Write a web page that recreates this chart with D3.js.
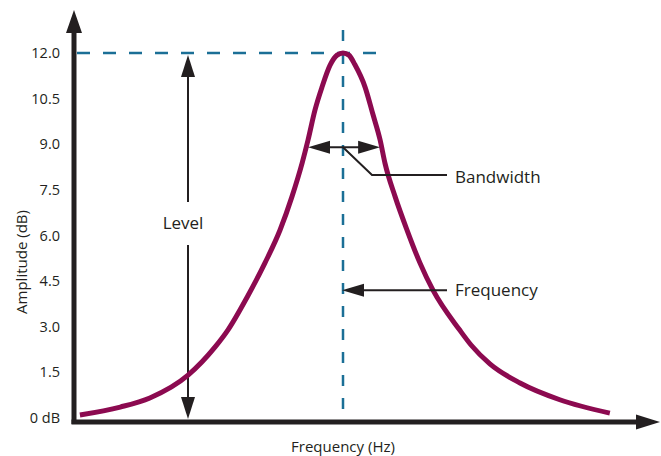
<!DOCTYPE html>
<html>
<head>
<meta charset="utf-8">
<script src="https://cdn.jsdelivr.net/npm/d3@7"></script>
<style>
  body { margin: 0; background: #fff; }
  text { font-family: "Open Sans", "Noto Sans", sans-serif; fill: #231f20; }
</style>
</head>
<body>
<div id="chart"></div>
<script>
// curve (frequency in arbitrary units, amplitude in dB)
var freq = [1.1, 8.6, 14.1, 21.2, 26.2, 28.6, 32.2, 35.5, 38.3, 40.5, 42.4, 43.5, 44.8, 46.1, 47.6, 48.9, 50,
            51.1, 52.2, 54.1, 55.6, 56.9, 57.8, 59.7, 61.9, 64.3, 66.7, 71.7, 73.8, 77.3, 82.9, 90.3, 99.6];
var amp = [0.1, 0.36, 0.66, 1.41, 2.33, 2.89, 3.98, 5.1, 6.18, 7.27, 8.38, 9.14, 10.13, 10.88, 11.6, 11.93, 12.0,
           11.93, 11.62, 10.88, 9.96, 9.14, 8.38, 7.27, 6.18, 5.1, 4.21, 2.89, 2.4, 1.78, 1.15, 0.6, 0.16];
var yTicks = [0, 1.5, 3, 4.5, 6, 7.5, 9, 10.5, 12];
var yTickLabels = ["0 dB", "1.5", "3.0", "4.5", "6.0", "7.5", "9.0", "10.5", "12.0"];

var peakFreq = 50, peakAmp = 12;
var bwLevel = 8.9, bwLow = 43.5, bwHigh = 56.9;
var freqArrowLevel = 4.2;

var width = 661;
var height = 456;

var svg = d3.select('#chart')
  .append("svg")
  .attr("width", width)
  .attr("height", height)

var x = d3.scaleLinear().domain([0, 100]).range([74, 612])
var y = d3.scaleLinear().domain([0, 12]).range([418, 53])

var dark = "#231f20"
var teal = "#1b6f96"
var wine = "#8c0a50"

function arrowHead(tx, ty, dir, len, half) {
  // dir: "up", "down", "left", "right"
  var p
  if (dir === "up") p = [[tx, ty], [tx - half, ty + len], [tx + half, ty + len]]
  if (dir === "down") p = [[tx, ty], [tx - half, ty - len], [tx + half, ty - len]]
  if (dir === "left") p = [[tx, ty], [tx + len, ty - half], [tx + len, ty + half]]
  if (dir === "right") p = [[tx, ty], [tx - len, ty - half], [tx - len, ty + half]]
  svg.append("path")
    .attr("d", "M" + p.join("L") + "Z")
    .attr("fill", dark)
}

// dashed guide lines
svg.append("line")
  .attr("x1", x(0) + 3).attr("x2", x(57.5))
  .attr("y1", y(peakAmp)).attr("y2", y(peakAmp))
  .attr("stroke", teal).attr("stroke-width", 2.5)
  .attr("stroke-dasharray", "13,13")

svg.append("line")
  .attr("x1", x(peakFreq)).attr("x2", x(peakFreq))
  .attr("y1", 30).attr("y2", y(0))
  .attr("stroke", teal).attr("stroke-width", 2.5)
  .attr("stroke-dasharray", "11,12")

// axes
svg.append("line")
  .attr("x1", x(0)).attr("x2", x(0))
  .attr("y1", y(0) + 6).attr("y2", 30)
  .attr("stroke", dark).attr("stroke-width", 5)
arrowHead(x(0), 10, "up", 23, 8)

svg.append("line")
  .attr("x1", x(0) - 2.5).attr("x2", 640)
  .attr("y1", y(0) + 4).attr("y2", y(0) + 4)
  .attr("stroke", dark).attr("stroke-width", 5)
arrowHead(660, y(0) + 4, "right", 24, 7.5)

// y tick labels
svg.selectAll(".ytick")
  .data(yTicks)
  .enter()
  .append("text")
  .attr("class", "ytick")
  .attr("x", 60)
  .attr("y", function (d) { return y(d) })
  .attr("dy", "0.35em")
  .attr("text-anchor", "end")
  .style("font-size", "14.5px")
  .text(function (d, i) { return yTickLabels[i] })

svg.append("text")
  .attr("transform", "translate(27,262) rotate(-90)")
  .attr("text-anchor", "middle")
  .style("font-size", "15px")
  .text("Amplitude (dB)")

svg.append("text")
  .attr("x", x(peakFreq))
  .attr("y", 452)
  .attr("text-anchor", "middle")
  .style("font-size", "15px")
  .text("Frequency (Hz)")

// level arrow
var levelX = 188
svg.append("line")
  .attr("x1", levelX).attr("x2", levelX)
  .attr("y1", y(peakAmp) + 20).attr("y2", 202)
  .attr("stroke", dark).attr("stroke-width", 2)
svg.append("line")
  .attr("x1", levelX).attr("x2", levelX)
  .attr("y1", 245).attr("y2", y(0) - 18)
  .attr("stroke", dark).attr("stroke-width", 2)
arrowHead(levelX, y(peakAmp) + 2, "up", 22, 7)
arrowHead(levelX, y(0) + 1, "down", 22, 7)
svg.append("text")
  .attr("x", 183)
  .attr("y", 223)
  .attr("dy", "0.35em")
  .attr("text-anchor", "middle")
  .style("font-size", "17px")
  .text("Level")

// response curve
var pts = freq.map(function (f, i) { return [f, amp[i]] })
var line = d3.line()
  .x(function (d) { return x(d[0]) })
  .y(function (d) { return y(d[1]) })
  .curve(d3.curveMonotoneX)

svg.append("path")
  .datum(pts)
  .attr("d", line)
  .attr("fill", "none")
  .attr("stroke", wine)
  .attr("stroke-width", 5)
  .attr("stroke-linecap", "butt")

// bandwidth arrow
var bwY = y(bwLevel)
svg.append("line")
  .attr("x1", x(bwLow) + 18).attr("x2", x(bwHigh) - 18)
  .attr("y1", bwY).attr("y2", bwY)
  .attr("stroke", dark).attr("stroke-width", 2)
arrowHead(x(bwLow), bwY, "left", 22, 6.5)
arrowHead(x(bwHigh), bwY, "right", 22, 6.5)

svg.append("path")
  .attr("d", "M" + x(peakFreq) + "," + bwY + "L372,175L447,175")
  .attr("fill", "none")
  .attr("stroke", dark).attr("stroke-width", 2)
svg.append("text")
  .attr("x", 455)
  .attr("y", 177)
  .attr("dy", "0.35em")
  .style("font-size", "17px")
  .text("Bandwidth")

// frequency arrow
var fY = y(freqArrowLevel)
svg.append("line")
  .attr("x1", 447).attr("x2", x(peakFreq) + 18)
  .attr("y1", fY).attr("y2", fY)
  .attr("stroke", dark).attr("stroke-width", 2)
arrowHead(x(peakFreq) - 1, fY, "left", 22, 6.5)
svg.append("text")
  .attr("x", 455)
  .attr("y", fY)
  .attr("dy", "0.35em")
  .style("font-size", "17px")
  .text("Frequency")
</script>
</body>
</html>
